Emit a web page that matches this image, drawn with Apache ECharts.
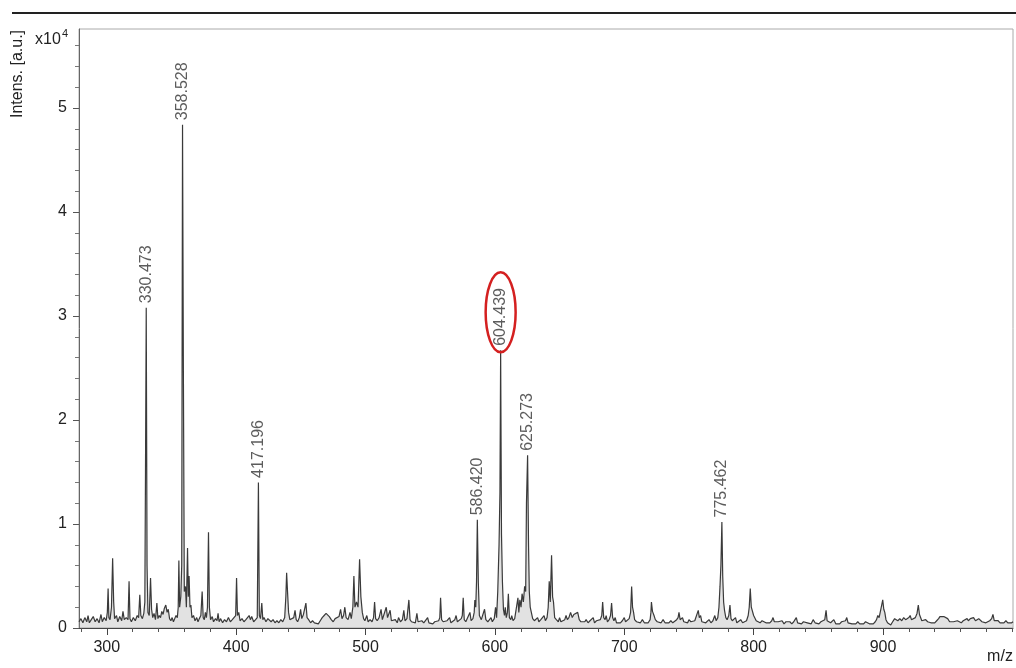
<!DOCTYPE html>
<html><head><meta charset="utf-8">
<script src="https://cdn.jsdelivr.net/npm/echarts@6/dist/echarts.min.js"></script>
<style>html,body{margin:0;padding:0;background:#fff}#c{width:1016px;height:668px}</style>
</head><body><div id="c"></div>
<script>
// Intensity values in units of 1e4 a.u.; m/z on x
const specA = [[278.5,0.06],[280,0.09],[281.5,0.05],[283,0.1],[284.5,0.06],[285.5,0.12],[286.5,0.05],[288,0.08],[289.5,0.11],[291,0.06],[292.5,0.09],[294,0.05],[295.5,0.13],[296.5,0.06],[298,0.1],[299.5,0.07],[300.4,0.15],[301,0.38],[301.6,0.1],[302.5,0.08],[303.6,0.2],[304.5,0.67],[305.3,0.25],[306,0.09],[307.5,0.12],[308.5,0.06],[310,0.11],[311.5,0.07],[312.5,0.16],[313.5,0.08],[315,0.1],[316.4,0.08],[317.2,0.45],[317.9,0.09],[319,0.06],[320.5,0.1],[322,0.07],[323.5,0.12],[324.6,0.1],[325.5,0.32],[326.3,0.12],[327.5,0.09],[328.6,0.14],[329.4,0.25],[329.9,1.5],[330.473,3.08],[331.1,0.6],[331.8,0.15],[332.8,0.12],[333.8,0.48],[334.6,0.18],[335.5,0.1],[336.5,0.14],[337.6,0.08],[338.7,0.24],[339.5,0.09],[340.5,0.12],[341.5,0.1],[342.5,0.16],[343.5,0.13],[344.5,0.19],[345.6,0.22],[346.6,0.15],[347.5,0.18],[348.5,0.09],[349.5,0.07],[350.5,0.1],[351.5,0.06],[352.5,0.09],[353.5,0.12],[354.5,0.1],[355.2,0.2],[355.7,0.65],[356.3,0.2],[357.2,0.3],[357.9,0.6],[358.528,4.84],[359.2,2.45],[359.9,0.35],[360.8,0.4],[361.5,0.2],[362.4,0.77],[363,0.3],[363.6,0.5],[364.3,0.2],[365,0.22],[365.8,0.1],[367,0.12],[368.2,0.07],[369.5,0.1],[370.5,0.06],[371.5,0.09],[372.7,0.12],[373.7,0.35],[374.5,0.1],[375.4,0.08],[376.2,0.15],[377,0.1],[377.8,0.2],[378.6,0.92],[379.3,0.2],[380.2,0.08],[381.5,0.11],[382.5,0.06],[384,0.09],[385.2,0.07],[386,0.14],[386.8,0.06],[388,0.09],[389.5,0.05],[391,0.08],[392.5,0.06],[394,0.1],[395.5,0.06],[397,0.08],[398.5,0.07],[399.6,0.12],[400.3,0.48],[401,0.12],[402,0.15],[403,0.07],[404.5,0.09],[406,0.06],[407.5,0.08],[409,0.07],[410,0.12],[411,0.08],[412,0.11],[413.5,0.06],[415,0.08],[416.3,0.1],[417.196,1.4],[417.9,0.12],[418.8,0.09],[419.8,0.24],[420.6,0.08]];
const specB = [[421.5,0.1],[423,0.06],[424.5,0.09],[425.5,0.1],[427,0.06],[428.5,0.08],[430,0.05],[431.5,0.07],[433,0.05],[434.5,0.08],[436,0.06],[437.5,0.1],[438.4,0.3],[439,0.53],[439.7,0.35],[440.5,0.15],[441.5,0.08],[443,0.07],[444.5,0.1],[445.5,0.17],[446.4,0.08],[447.5,0.06],[448.8,0.1],[449.8,0.18],[450.7,0.09],[452,0.13],[453.1,0.12],[453.9,0.24],[454.8,0.1],[456,0.08],[457.5,0.05],[459,0.07],[460.5,0.05],[462,0.06],[463.5,0.04],[465,0.07],[466.5,0.1],[468,0.12],[469.5,0.14],[470.5,0.15],[472,0.11],[473.5,0.08],[475,0.06],[476.5,0.09],[478,0.08],[479.5,0.11],[480.7,0.18],[481.8,0.09],[483,0.12],[484,0.2],[485,0.1],[486.5,0.08],[488,0.15],[489,0.09],[490.2,0.2],[491,0.5],[491.8,0.2],[493,0.25],[494.2,0.2],[495.4,0.66],[496.4,0.3],[497.5,0.15],[498.5,0.09],[499.5,0.07]];
const specC = [[501,0.12],[502,0.06],[503.5,0.08],[505,0.06],[506.2,0.1],[507,0.25],[507.8,0.09],[509,0.07],[510.5,0.1],[512,0.18],[513,0.08],[514.5,0.09],[516,0.2],[517,0.1],[518.2,0.09],[519,0.17],[520,0.07],[521.5,0.06],[523,0.08],[524.5,0.05],[525.5,0.1],[527,0.06],[528.5,0.08],[529.6,0.17],[530.5,0.07],[532,0.09],[533.5,0.27],[534.4,0.08],[535.5,0.06],[537,0.07],[538.5,0.05],[539.7,0.14],[540.6,0.06],[542,0.05],[543.5,0.07],[545,0.05],[546.5,0.06],[548,0.1],[549,0.05],[550.5,0.06],[552,0.04],[553.5,0.06],[555,0.05],[556.5,0.07],[557.4,0.1],[558,0.29],[558.8,0.08],[560,0.06],[561.5,0.05],[563,0.07],[564.3,0.06],[565,0.1],[566,0.05],[567.5,0.06],[569,0.08],[570,0.12],[571,0.06],[572.5,0.07],[574,0.09],[574.8,0.12],[575.5,0.29],[576.3,0.08],[577.5,0.06],[579,0.07],[580.7,0.15],[581.6,0.07],[583,0.09],[584,0.15],[584.5,0.27],[585.2,0.2],[585.8,0.45],[586.42,1.04],[587.2,0.43],[588,0.12],[589.5,0.08],[591,0.09],[592,0.18],[593,0.08],[594.5,0.06],[596,0.07],[597,0.1],[598,0.06],[599.5,0.09]];
const specD = [[600.5,0.2],[601.3,0.1],[602.2,0.35],[603.2,0.8],[603.9,1.3],[604.439,2.67],[605.1,0.9],[605.8,0.45],[606.6,0.18],[607.4,0.12],[608,0.2],[608.8,0.1],[609.7,0.15],[610.4,0.33],[611.2,0.1],[612.3,0.08],[613,0.12],[614,0.07],[615.3,0.09],[616.5,0.1],[617.8,0.29],[618.5,0.15],[619.3,0.27],[620.2,0.2],[621,0.33],[622,0.25],[623,0.4],[623.8,0.35],[624.4,1.2],[625.273,1.66],[626,0.8],[626.6,0.35],[627.3,0.2],[628.2,0.2],[629.2,0.09],[630.5,0.07],[632,0.06],[633,0.1],[634,0.06],[635.5,0.08],[637,0.07],[638,0.12],[639,0.07],[640.3,0.1],[641.2,0.2],[642,0.45],[642.8,0.25],[643.8,0.7],[644.6,0.3],[645.3,0.25],[646.2,0.1],[647.5,0.08],[649,0.06],[650,0.1],[651,0.06],[652.5,0.07],[654,0.08],[655,0.12],[656,0.08],[657.2,0.1],[658.5,0.15],[659.8,0.1],[661,0.13],[662.5,0.12],[664,0.15],[665.2,0.08],[666.5,0.06],[668,0.07],[669.5,0.06],[670.5,0.08],[672,0.05],[673.5,0.07],[675,0.06],[676,0.1],[677,0.05],[678.5,0.07],[680,0.06],[681.5,0.08],[682.6,0.12],[683.3,0.25],[684.1,0.1],[685.2,0.08],[686,0.12],[687,0.06],[688.3,0.08],[689.4,0.12],[690.2,0.24],[691,0.1],[692,0.07],[693,0.1],[694,0.05],[695.5,0.06],[697,0.05],[698.5,0.07],[700,0.1]];
const specE = [[701,0.06],[702.5,0.07],[703.8,0.09],[704.9,0.15],[705.7,0.4],[706.4,0.2],[707.2,0.15],[708,0.08],[709.5,0.06],[711,0.07],[712.5,0.05],[714,0.08],[715.5,0.05],[717,0.06],[718.5,0.05],[720,0.08],[720.6,0.15],[721,0.25],[721.8,0.16],[723,0.12],[724,0.08],[725.5,0.06],[727,0.07],[728.5,0.05],[730,0.08],[731.5,0.05],[733,0.06],[734.5,0.05],[736,0.07],[737.5,0.05],[739,0.06],[740.5,0.08],[741.6,0.1],[742.3,0.15],[743.2,0.08],[745,0.1],[746,0.06],[747.5,0.07],[749,0.05],[750,0.08],[751.5,0.06],[753,0.05],[754.5,0.07],[756,0.08],[757.2,0.17],[758,0.1],[759,0.12],[760,0.06],[761.5,0.07],[763,0.05],[764.5,0.06],[765.5,0.08],[767,0.05],[768.5,0.07],[770,0.12],[771,0.07],[772.3,0.1],[773.2,0.2],[774,0.4],[774.7,0.6],[775.462,1.02],[776.1,0.5],[776.8,0.25],[777.5,0.17],[778.5,0.1],[779.5,0.08],[780.8,0.12],[781.7,0.22],[782.5,0.09],[783.5,0.07],[785,0.06],[786,0.1],[787,0.05],[788.5,0.06],[790,0.08],[791.5,0.05],[793,0.06],[794.5,0.07],[795.8,0.12],[796.6,0.2],[797.4,0.38],[798.2,0.2],[799,0.2],[800,0.12]];
const specF = [[801,0.12],[802,0.07],[803.5,0.06],[805,0.05],[806.5,0.07],[808,0.07],[809.5,0.05],[811,0.06],[812.5,0.05],[814,0.07],[815,0.1],[816,0.06],[817.5,0.05],[819,0.06],[820.5,0.05],[822,0.07],[823.5,0.04],[825,0.06],[826.5,0.05],[828,0.06],[829.5,0.04],[831,0.06],[832,0.08],[833,0.1],[834,0.05],[835.5,0.06],[837,0.04],[838.5,0.06],[840,0.07],[841.5,0.05],[843,0.06],[844.5,0.04],[846,0.08],[847.5,0.05],[849,0.06],[850.5,0.04],[852,0.06],[853.5,0.05],[855,0.08],[856,0.17],[856.8,0.07],[858,0.06],[859.5,0.05],[861,0.06],[862,0.08],[863.5,0.04],[865,0.05],[866.5,0.04],[868,0.06],[869.5,0.05],[871,0.07],[872,0.1],[873,0.05],[874.5,0.06],[876,0.04],[877.5,0.05],[879,0.04],[880.5,0.06],[882,0.04],[883.5,0.05],[885,0.04],[886.5,0.06],[888,0.07],[889.5,0.04],[891,0.05],[892.5,0.04],[894,0.06],[895,0.08],[896,0.12],[897,0.1],[898,0.16],[899,0.22],[899.8,0.27],[900.6,0.18],[901.4,0.15],[902.3,0.08],[903.5,0.05],[905,0.04],[906,0.03],[907,0.05],[908,0.06],[909,0.09],[910,0.08],[911.5,0.07],[913,0.09],[914.5,0.07],[916,0.1],[917.5,0.08],[919,0.07],[920,0.1],[921,0.12],[922,0.08],[923.5,0.07],[925,0.1],[926.3,0.14],[927.3,0.22],[928.2,0.13],[929,0.12],[930,0.07],[931.5,0.06],[933,0.08],[934.5,0.06],[935.5,0.07],[937,0.05],[938.5,0.06],[940,0.05],[941.5,0.07],[943,0.09],[944,0.11],[945.5,0.1],[947,0.11],[948.5,0.1],[950,0.09],[951.5,0.06],[953,0.05],[954.5,0.06],[956,0.05],[957.5,0.07],[959,0.06],[960.5,0.05],[962,0.07],[963.5,0.06],[965,0.09],[966,0.07],[967.5,0.09],[969,0.08],[970,0.1],[971.5,0.07],[973,0.08],[974,0.09],[975,0.09],[976.5,0.06],[978,0.07],[979.5,0.05],[981,0.06],[982.5,0.07],[984,0.09],[985,0.13],[986,0.07],[987.5,0.06],[989,0.07],[990.5,0.05],[992,0.06],[993.5,0.05],[995,0.07],[996.5,0.05],[998,0.06],[999.5,0.05],[1000.5,0.06]];
const labelPeaks = [[330.473,3.08],[358.528,4.84],[417.196,1.40],[586.420,1.04],[604.439,2.67],[625.273,1.66],[775.462,1.02]];
const highlightPeak = [604.439,2.67];
const xMajorTicks = [300,400,500,600,700,800,900];
const xMinorTicks = [280,320,340,360,380,420,440,460,480,520,540,560,580,620,640,660,680,720,740,760,780,820,840,860,880,920,940,960,980,1000];
const yMajorTicks = [0,1,2,3,4,5];
const yMinorTicks = [0.2,0.4,0.6,0.8,1.2,1.4,1.6,1.8,2.2,2.4,2.6,2.8,3.2,3.4,3.6,3.8,4.2,4.4,4.6,4.8,5.2,5.4,5.6];

const spectrum = [].concat(specA, specB, specC, specD, specE, specF);
const FONT = '"Liberation Sans", Arial, sans-serif';
const chart = echarts.init(document.getElementById('c'), null, {renderer:'canvas'});
const X_MIN = 278.5, X_MAX = 1000.5, Y_MAX = 5.76;

chart.setOption({
  animation:false,
  backgroundColor:'#fff',
  grid:{left:79, right:3, top:29, bottom:40, show:true, borderColor:'#aaa', borderWidth:1},
  xAxis:[
    {type:'value', min:X_MIN, max:X_MAX, splitLine:{show:false},
     axisLine:{lineStyle:{color:'#444', width:1}},
     axisTick:{show:true, length:7, lineStyle:{color:'#444'}, customValues:xMajorTicks},
     axisLabel:{customValues:xMajorTicks, margin:12, fontSize:16, color:'#222', fontFamily:FONT}},
    {type:'value', min:X_MIN, max:X_MAX, position:'bottom', splitLine:{show:false},
     axisLine:{show:false},
     axisTick:{show:true, length:4, lineStyle:{color:'#555'}, customValues:xMinorTicks},
     axisLabel:{show:false}}
  ],
  yAxis:[
    {type:'value', min:0, max:Y_MAX, splitLine:{show:false},
     axisLine:{show:true, lineStyle:{color:'#666', width:1}},
     axisTick:{show:true, length:6, lineStyle:{color:'#555'}, customValues:yMajorTicks},
     axisLabel:{customValues:yMajorTicks, margin:12, fontSize:16, color:'#222', fontFamily:FONT,
       formatter:v=>String(Math.round(v))}},
    {type:'value', min:0, max:Y_MAX, position:'left', splitLine:{show:false},
     axisLine:{show:false},
     axisTick:{show:true, length:4, lineStyle:{color:'#777'}, customValues:yMinorTicks},
     axisLabel:{show:false}}
  ],
  series:[
    {type:'line', data:spectrum, showSymbol:false, symbol:'none',
     lineStyle:{color:'#3a3a3a', width:1.2},
     areaStyle:{color:'rgba(150,150,150,0.4)'}, z:3},
    {type:'scatter', data:labelPeaks, symbolSize:1, itemStyle:{color:'rgba(0,0,0,0)'},
     label:{show:true, position:'top', distance:4, rotate:90, align:'left', verticalAlign:'middle',
       fontSize:16, color:'#333', fontFamily:FONT, formatter:p=>p.value[0].toFixed(3)}, z:4}
  ]
});

const hp = chart.convertToPixel({xAxisIndex:0, yAxisIndex:0}, highlightPeak);
chart.setOption({
  graphic:[
    {type:'rect', shape:{x:12, y:12, width:1004, height:2}, style:{fill:'#222'}},
    {type:'text', x:18, y:74, rotation:Math.PI/2,
     style:{text:'Intens. [a.u.]', font:'16px '+FONT, fill:'#222', align:'center', verticalAlign:'middle'}},
    {type:'text', x:35, y:32, style:{text:'x10', font:'16px '+FONT, fill:'#222'}},
    {type:'text', x:62, y:28, style:{text:'4', font:'11px '+FONT, fill:'#222'}},
    {type:'text', x:1000, y:657, style:{text:'m/z', font:'16px '+FONT, fill:'#222', align:'center', verticalAlign:'middle'}},
    {type:'ellipse', shape:{cx:hp[0], cy:hp[1]-38, rx:15, ry:40}, style:{fill:'none', stroke:'#d42020', lineWidth:2.5}, z:10}
  ]
});
</script></body></html>
